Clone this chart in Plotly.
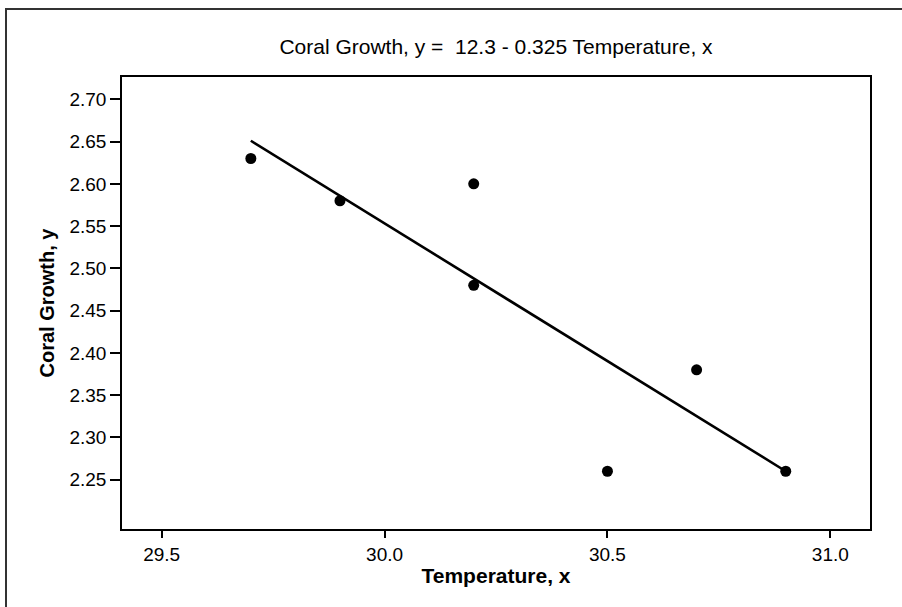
import plotly.graph_objects as go

# Data
temperature = [29.7, 29.9, 30.2, 30.2, 30.5, 30.7, 30.9]
coral_growth = [2.63, 2.58, 2.60, 2.48, 2.26, 2.38, 2.26]

# Fitted regression line (y = 12.3 - 0.325 x), endpoints as read
fit_x = [29.7, 30.9]
fit_y = [2.651, 2.260]

y_ticks = [2.25, 2.30, 2.35, 2.40, 2.45, 2.50, 2.55, 2.60, 2.65, 2.70]
x_ticks = [29.5, 30.0, 30.5, 31.0]

title_text = "Coral Growth, y =  12.3 - 0.325 Temperature, x"

W, H = 902, 607
L, R, T, B = 122, 32, 77, 78
pw, ph = W - L - R, H - T - B

fig = go.Figure()
fig.add_trace(go.Scatter(x=fit_x, y=fit_y, mode="lines",
                         line=dict(color="black", width=2.6), hoverinfo="skip"))
fig.add_trace(go.Scatter(x=temperature, y=coral_growth, mode="markers",
                         marker=dict(color="black", size=11, line=dict(width=0))))

font_family = "Liberation Sans, Arial, sans-serif"

fig.update_layout(
    width=W, height=H,
    margin=dict(l=L, r=R, t=T, b=B, pad=0),
    paper_bgcolor="white", plot_bgcolor="white",
    showlegend=False,
    font=dict(family=font_family, color="black", size=19),
    title=dict(text=title_text, x=(L + pw / 2) / W, xanchor="center",
               y=1 - 47 / H, yanchor="middle",
               font=dict(size=21, family=font_family, color="black")),
    xaxis=dict(range=[29.411, 31.089], tickvals=x_ticks,
               ticktext=[f"{v:.1f}" for v in x_ticks],
               ticks="outside", ticklen=7, tickwidth=1.5, tickcolor="black",
               showline=True, linecolor="black", linewidth=1.5, mirror=True,
               showgrid=False, zeroline=False,
               tickfont=dict(size=19, family=font_family),
               title=dict(text="<b>Temperature, x</b>", standoff=5,
                          font=dict(size=21, family=font_family))),
    yaxis=dict(range=[2.1917, 2.7264], tickvals=y_ticks,
               ticktext=[f"{v:.2f}" for v in y_ticks],
               ticks="outside", ticklen=10, tickwidth=1.5, tickcolor="black",
               showline=True, linecolor="black", linewidth=1.5, mirror=True,
               showgrid=False, zeroline=False,
               tickfont=dict(size=19, family=font_family),
               title=dict(text="<b>Coral Growth, y</b>", standoff=9,
                          font=dict(size=20, family=font_family))),
)

# Outer frame (left and top edges visible)
fig.add_shape(type="rect", xref="paper", yref="paper",
              x0=(6 - L) / pw, x1=(W + 10 - L) / pw,
              y0=-(B + 10) / ph, y1=1 + (T - 9) / ph,
              line=dict(color="#333333", width=2), layer="below")

fig.write_html("out.html")
